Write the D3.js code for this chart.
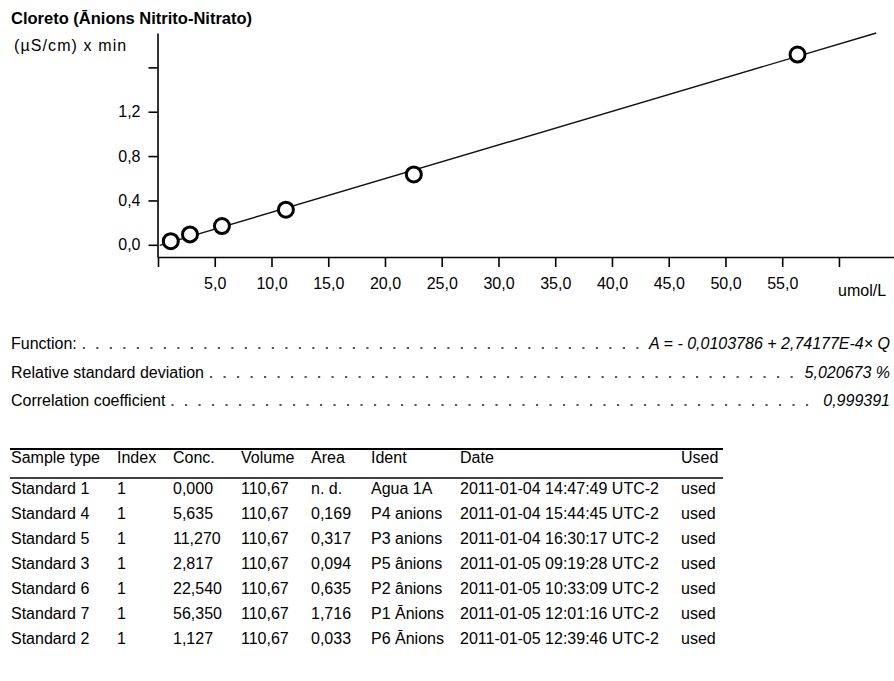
<!DOCTYPE html>
<html>
<head>
<meta charset="utf-8">
<script src="https://cdn.jsdelivr.net/npm/d3@7"></script>
<style>
  body { margin: 0; background: #fff; }
  svg { font-family: "Liberation Sans", Arial, sans-serif; font-size: 16px; }
</style>
</head>
<body>
<script>
const width = 894;
const height = 681;

// calibration table
const sampleTypes = ["Standard 1", "Standard 4", "Standard 5", "Standard 3", "Standard 6", "Standard 7", "Standard 2"];
const indexes = ["1", "1", "1", "1", "1", "1", "1"];
const concs = [0.000, 5.635, 11.270, 2.817, 22.540, 56.350, 1.127];
const volumes = [110.67, 110.67, 110.67, 110.67, 110.67, 110.67, 110.67];
const areas = [null, 0.169, 0.317, 0.094, 0.635, 1.716, 0.033];
const idents = ["Agua 1A", "P4 anions", "P3 anions", "P5 ânions", "P2 ânions", "P1 Ānions", "P6 Ānions"];
const dates = ["2011-01-04 14:47:49 UTC-2", "2011-01-04 15:44:45 UTC-2", "2011-01-04 16:30:17 UTC-2",
  "2011-01-05 09:19:28 UTC-2", "2011-01-05 10:33:09 UTC-2", "2011-01-05 12:01:16 UTC-2", "2011-01-05 12:39:46 UTC-2"];
const used = ["used", "used", "used", "used", "used", "used", "used"];
const headers = ["Sample type", "Index", "Conc.", "Volume", "Area", "Ident", "Date", "Used"];

// fit result
const intercept = -0.0103786;
const slope = 2.74177e-4;   // per (conc x volume)
const fitStart = 0.15;
const statLabels = ["Function:", "Relative standard deviation", "Correlation coefficient"];
const statValues = ["A = - 0,0103786 + 2,74177E-4× Q", "5,020673 %", "0,999391"];

// axes
const xTicks = [0, 5, 10, 15, 20, 25, 30, 35, 40, 45, 50, 55, 60];
const xTickLabels = ["", "5,0", "10,0", "15,0", "20,0", "25,0", "30,0", "35,0", "40,0", "45,0", "50,0", "55,0", ""];
const yTicks = [0, 0.4, 0.8, 1.2, 1.6];
const yTickLabels = ["0,0", "0,4", "0,8", "1,2", ""];

const svg = d3.select("body").append("svg")
    .attr("width", width)
    .attr("height", height);

const x = d3.scaleLinear().domain([0, 64.85]).range([158, 894]);
const y = d3.scaleLinear().domain([-0.11, 1.91]).range([257, 33]);

svg.append("text")
    .attr("x", 11).attr("y", 24)
    .attr("font-weight", "bold")
    .attr("font-size", 16.5)
    .text("Cloreto (Ānions Nitrito-Nitrato)");

svg.append("text")
    .attr("x", 14).attr("y", 51)
    .attr("letter-spacing", 1.1)
    .text("(µS/cm) x min");

svg.append("g")
    .attr("transform", `translate(0,${y.range()[0]})`)
    .call(d3.axisBottom(x)
        .tickValues(xTicks)
        .tickFormat((d, i) => xTickLabels[i])
        .tickSize(10).tickSizeOuter(0).tickPadding(11));

svg.append("g")
    .attr("transform", `translate(${x.range()[0] - 0.5},0)`)
    .call(d3.axisLeft(y)
        .tickValues(yTicks)
        .tickFormat((d, i) => yTickLabels[i])
        .tickSize(9).tickSizeOuter(0).tickPadding(8));

svg.selectAll(".tick text").attr("font-size", 16).attr("font-family", null).attr("fill", "#000");
svg.selectAll(".domain, .tick line").attr("stroke", "#000").attr("stroke-width", 1.6);

svg.append("text")
    .attr("x", 838).attr("y", 296)
    .text("umol/L");

// regression line, clipped at the top of the plot
const vol = volumes[0];
const fitEnd = (y.domain()[1] - intercept) / (slope * vol);
const fitLine = [fitStart, fitEnd].map(c => [c, intercept + slope * c * vol]);

svg.append("path")
    .datum(fitLine)
    .attr("fill", "none")
    .attr("stroke", "#111")
    .attr("stroke-width", 1.4)
    .attr("d", d3.line().x(d => x(d[0])).y(d => y(d[1])));

const points = concs.map((c, i) => ({ c, a: areas[i] })).filter(d => d.a !== null);

svg.append("g")
    .selectAll()
    .data(points)
    .join("circle")
    .attr("cx", d => x(d.c))
    .attr("cy", d => y(d.a))
    .attr("r", 7.5)
    .attr("fill", "#fff")
    .attr("stroke", "#000")
    .attr("stroke-width", 3);

// statistics block with dot leaders
const statY = [349, 378, 406];
const stats = svg.append("g");
statLabels.forEach((lab, i) => {
    const t = stats.append("text").attr("x", 11).attr("y", statY[i]).text(lab);
    const v = stats.append("text")
        .attr("x", 890).attr("y", statY[i])
        .attr("text-anchor", "end")
        .attr("font-style", "italic")
        .text(statValues[i]);
    const x0 = 11 + t.node().getComputedTextLength() + 6;
    const x1 = 890 - v.node().getComputedTextLength() - 6;
    stats.append("line")
        .attr("x1", x0).attr("x2", x1)
        .attr("y1", statY[i] - 1).attr("y2", statY[i] - 1)
        .attr("stroke", "#222")
        .attr("stroke-width", 1.6)
        .attr("stroke-dasharray", "2.2 11.3");
});

// table
const colX = [11, 117, 173, 241, 311, 371, 460, 681];
const fmt3 = v => v.toFixed(3).replace(".", ",");
const fmt2 = v => v.toFixed(2).replace(".", ",");
const rows = sampleTypes.map((s, i) => [
    s, indexes[i], fmt3(concs[i]), fmt2(volumes[i]),
    areas[i] === null ? "n. d." : fmt3(areas[i]), idents[i], dates[i], used[i]
]);

const table = svg.append("g");
table.append("line")
    .attr("x1", 10).attr("x2", 723).attr("y1", 449).attr("y2", 449)
    .attr("stroke", "#000").attr("stroke-width", 2);
table.append("line")
    .attr("x1", 10).attr("x2", 723).attr("y1", 478).attr("y2", 478)
    .attr("stroke", "#000").attr("stroke-width", 1.6);

table.selectAll(".head")
    .data(headers)
    .join("text")
    .attr("class", "head")
    .attr("x", (d, i) => colX[i])
    .attr("y", 463)
    .text(d => d);

table.selectAll(".row")
    .data(rows)
    .join("g")
    .attr("class", "row")
    .attr("transform", (d, i) => `translate(0,${494 + i * 25})`)
    .selectAll("text")
    .data(d => d)
    .join("text")
    .attr("x", (d, i) => colX[i])
    .text(d => d);
</script>
</body>
</html>
